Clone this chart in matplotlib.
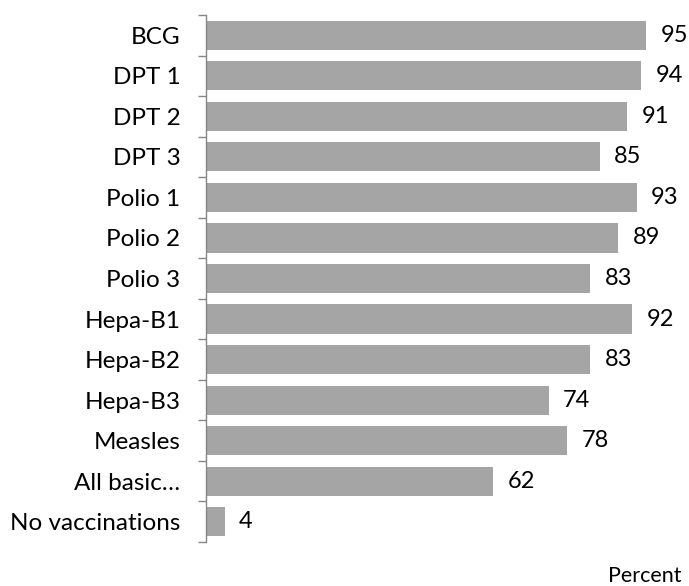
import matplotlib
matplotlib.use("Agg")
import matplotlib.pyplot as plt
import numpy as np

categories = ["BCG", "DPT 1", "DPT 2", "DPT 3", "Polio 1", "Polio 2", "Polio 3",
              "Hepa-B1", "Hepa-B2", "Hepa-B3", "Measles", "All basic…", "No vaccinations"]
values = [95, 94, 91, 85, 93, 89, 83, 92, 83, 74, 78, 62, 4]

plt.rcParams['font.family'] = ['Lato', 'DejaVu Sans']

fig = plt.figure(figsize=(6.89, 5.86), dpi=100)
ax = fig.add_axes([206/689, 44/586, 463/689, 527/586])

n = len(categories)
y = np.arange(n)
ax.barh(y, values, height=0.72, color="#A5A5A5")
ax.set_xlim(0, 100)
ax.set_ylim(n - 0.5, -0.5)

for yi, v in zip(y, values):
    ax.annotate(str(v), (v, yi), xytext=(10.5, 0), textcoords="offset points",
                va="center", ha="left", fontsize=17, color="#000000")

ax.set_yticks(y)
ax.set_yticklabels(categories, fontsize=17.5)
ax.tick_params(axis="y", which="major", length=0, pad=18.5)
ax.set_yticks(np.arange(-0.5, n, 1.0), minor=True)
ax.tick_params(axis="y", which="minor", length=5.8, color="#868686", width=1)
ax.set_xticks([])

for s in ["top", "right", "bottom"]:
    ax.spines[s].set_visible(False)
ax.spines["left"].set_color("#868686")
ax.spines["left"].set_linewidth(1)

fig.text(681/689, 1 - 576/586, "Percent", ha="right", va="center", fontsize=15.5)

fig.savefig("out.png", dpi=100)
